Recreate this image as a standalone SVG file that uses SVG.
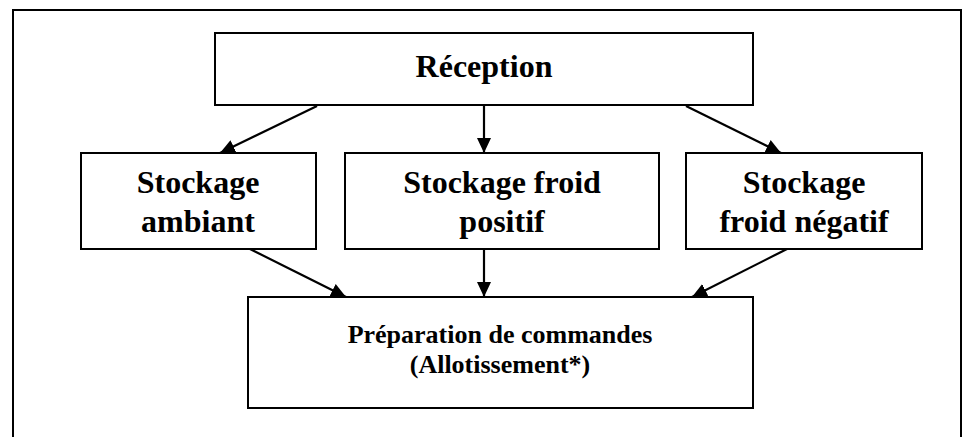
<svg xmlns="http://www.w3.org/2000/svg" width="974" height="437" viewBox="0 0 974 437">
<style>
.box{fill:#fff;stroke:#000;stroke-width:2}
text{font-family:'Liberation Serif','DejaVu Serif',serif;font-weight:bold;fill:#000;text-anchor:middle}
.big{font-size:32px}
.small{font-size:26px}
.con{stroke:#000;stroke-width:2.2;fill:none;marker-end:url(#ah)}
</style>
<defs>
<marker id="ah" markerWidth="15" markerHeight="14" refX="15" refY="7" orient="auto" markerUnits="userSpaceOnUse">
<path d="M0,0 L15,7 L0,14 Z" fill="#000"/>
</marker>
</defs>
<rect width="974" height="437" fill="#fff"/>
<path d="M13,437 V10 H961 V437" fill="none" stroke="#000" stroke-width="2"/>
<g id="connectors">
<line class="con" x1="317" y1="106" x2="220" y2="153"/>
<line class="con" x1="484" y1="106" x2="484" y2="153"/>
<line class="con" x1="686" y1="106" x2="781" y2="153"/>
<line class="con" x1="250" y1="249" x2="346" y2="297"/>
<line class="con" x1="484" y1="249" x2="484" y2="297"/>
<line class="con" x1="787" y1="249" x2="692" y2="297"/>
</g>
<g id="reception">
<rect class="box" x="215" y="33" width="538" height="72"/>
<text class="big" x="484" y="77">Réception</text>
</g>
<g id="ambiant">
<rect class="box" x="81" y="153" width="235" height="96"/>
<text class="big" x="198" y="193">Stockage</text>
<text class="big" x="198" y="232">ambiant</text>
</g>
<g id="positif">
<rect class="box" x="345" y="153" width="314" height="96"/>
<text class="big" x="502" y="193">Stockage froid</text>
<text class="big" x="502" y="232">positif</text>
</g>
<g id="negatif">
<rect class="box" x="686" y="153" width="236" height="96"/>
<text class="big" x="804" y="193">Stockage</text>
<text class="big" x="804" y="232">froid négatif</text>
</g>
<g id="preparation">
<rect class="box" x="248" y="297" width="505" height="111"/>
<text class="small" x="500" y="343">Préparation de commandes</text>
<text class="small" x="500" y="373">(Allotissement*)</text>
</g>
</svg>
